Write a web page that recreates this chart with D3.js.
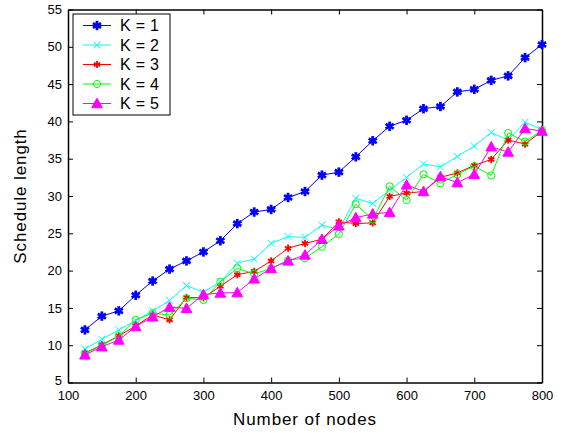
<!DOCTYPE html>
<html>
<head>
<meta charset="utf-8">
<script src="https://cdn.jsdelivr.net/npm/d3@7"></script>
<style>
  body { margin: 0; background: #fff; }
  svg { font-family: "Liberation Sans", Arial, sans-serif; }
</style>
</head>
<body>
<div id="chart"></div>
<script>
// number of nodes (x) and schedule length for each K
var nodes = [125, 150, 175, 200, 225, 250, 275, 300, 325, 350, 375, 400, 425, 450,
             475, 500, 525, 550, 575, 600, 625, 650, 675, 700, 725, 750, 775, 800];
var k1 = [12.05, 13.9, 14.6, 16.7, 18.6, 20.2, 21.3, 22.5, 24.0, 26.3, 27.85, 28.2, 29.8, 30.6,
          32.8, 33.2, 35.25, 37.4, 39.35, 40.15, 41.7, 42.0, 43.95, 44.3, 45.5, 46.1, 48.55, 50.3];
var k2 = [9.5, 10.8, 12.05, 13.3, 14.6, 16.0, 18.0, 17.1, 18.5, 21.0, 21.55, 23.65, 24.55, 24.45,
          26.1, 25.5, 29.7, 29.0, 30.8, 32.5, 34.3, 33.9, 35.3, 36.7, 38.5, 37.5, 39.9, 38.9];
var k3 = [8.95, 10.05, 11.25, 12.6, 14.05, 13.4, 16.4, 16.35, 17.9, 19.45, 19.9, 21.3, 23.0, 23.65,
          24.2, 26.55, 26.3, 26.4, 29.95, 30.4, 30.6, 32.5, 33.1, 34.1, 34.9, 37.5, 36.95, 38.7];
var k4 = [8.9, 9.95, 11.2, 13.4, 14.3, 14.05, 16.3, 16.05, 18.5, 20.3, 19.55, 20.3, 21.4, 21.65,
          23.2, 24.9, 28.9, 26.85, 31.3, 29.45, 32.9, 31.7, 32.9, 34.0, 32.75, 38.45, 37.3, 38.8];
var k5 = [8.7, 9.8, 10.7, 12.5, 13.8, 15.1, 14.95, 16.8, 17.0, 17.05, 18.9, 20.3, 21.3, 22.1,
          24.2, 26.0, 27.1, 27.6, 27.8, 31.5, 30.6, 32.6, 31.8, 32.9, 36.6, 35.9, 39.05, 38.7];

var seriesNames = ["K = 1", "K = 2", "K = 3", "K = 4", "K = 5"];
var seriesColors = ["#0000ff", "#00ffff", "#ff0000", "#00ff00", "#ff00ff"];
var seriesMarkers = ["bigstar", "x", "star", "circle", "triangle"];
var seriesValues = [k1, k2, k3, k4, k5];

var xTicks = [100, 200, 300, 400, 500, 600, 700, 800];
var yTicks = [5, 10, 15, 20, 25, 30, 35, 40, 45, 50, 55];

var width = 568, height = 433;
var margin = { top: 9.5, right: 26, bottom: 50.5, left: 68 };
var plotW = width - margin.left - margin.right,
    plotH = height - margin.top - margin.bottom;

var x = d3.scaleLinear().domain([100, 800]).range([0, plotW]);
var y = d3.scaleLinear().domain([5, 55]).range([plotH, 0]);

var svg = d3.select("#chart").append("svg")
    .attr("width", width)
    .attr("height", height);

var g = svg.append("g")
    .attr("transform", "translate(" + margin.left + "," + margin.top + ")");

// axes: ticks point inward, box on all four sides
var tickLen = 5;
g.append("g")
    .attr("transform", "translate(0," + plotH + ")")
    .call(d3.axisBottom(x).tickValues(xTicks).tickSizeInner(-tickLen).tickSizeOuter(0).tickPadding(8))
    .call(styleAxis);
g.append("g")
    .call(d3.axisTop(x).tickValues(xTicks).tickSizeInner(-tickLen).tickSizeOuter(0).tickFormat(""))
    .call(styleAxis);
var yAxisG = g.append("g")
    .call(d3.axisLeft(y).tickValues(yTicks).tickSizeInner(-tickLen).tickSizeOuter(0).tickPadding(6))
    .call(styleAxis);
g.append("g")
    .attr("transform", "translate(" + plotW + ",0)")
    .call(d3.axisRight(y).tickValues(yTicks).tickSizeInner(-tickLen).tickSizeOuter(0).tickFormat(""))
    .call(styleAxis);

// the lowest y label sits right against the "100" below it; lift it a little
yAxisG.selectAll(".tick text")
    .filter(function (d) { return d === 5; })
    .attr("y", -2.5);

function styleAxis(sel) {
    sel.select(".domain").attr("stroke", "#000").attr("stroke-width", 1.5);
    sel.selectAll(".tick line").attr("stroke", "#000").attr("stroke-width", 1);
    sel.selectAll(".tick text").attr("fill", "#000").style("font-size", "13px");
}

// series lines and markers
var line = d3.line()
    .x(function (d) { return x(d[0]); })
    .y(function (d) { return y(d[1]); });

function drawMarker(sel, type, color) {
    if (type === "bigstar" || type === "star") {
        var r = type === "bigstar" ? 4.7 : 3.6;
        var sw = type === "bigstar" ? 2.8 : 1.8;
        [0, 60, 120].forEach(function (a) {
            sel.append("line")
                .attr("x1", 0).attr("y1", -r).attr("x2", 0).attr("y2", r)
                .attr("transform", "rotate(" + a + ")")
                .attr("stroke", color).attr("stroke-width", sw);
        });
    } else if (type === "x") {
        var s = 3.5;
        sel.append("path")
            .attr("d", "M" + -s + "," + -s + "L" + s + "," + s + "M" + -s + "," + s + "L" + s + "," + -s)
            .attr("stroke", color).attr("stroke-width", 1);
    } else if (type === "circle") {
        sel.append("circle").attr("r", 3.6)
            .attr("fill", "none").attr("stroke", color).attr("stroke-width", 1);
    } else if (type === "triangle") {
        sel.append("path")
            .attr("d", "M0,-5.3L5.3,4.2L-5.3,4.2Z")
            .attr("fill", color).attr("stroke", color).attr("stroke-width", 1);
    }
}

seriesValues.forEach(function (vals, i) {
    var pts = nodes.map(function (n, j) { return [n, vals[j]]; });
    var sg = g.append("g");
    sg.append("path")
        .datum(pts)
        .attr("fill", "none")
        .attr("stroke", seriesColors[i])
        .attr("stroke-width", 1)
        .attr("d", line);
    sg.selectAll(".m")
        .data(pts)
        .enter().append("g")
        .attr("transform", function (d) { return "translate(" + x(d[0]) + "," + y(d[1]) + ")"; })
        .each(function () { drawMarker(d3.select(this), seriesMarkers[i], seriesColors[i]); });
});

// axis labels
svg.append("text")
    .attr("x", margin.left + plotW / 2)
    .attr("y", 425)
    .attr("text-anchor", "middle")
    .style("font-size", "17px")
    .style("letter-spacing", "0.9px")
    .text("Number of nodes");

svg.append("text")
    .attr("transform", "translate(26," + (margin.top + plotH / 2) + ") rotate(-90)")
    .attr("text-anchor", "middle")
    .style("font-size", "17px")
    .style("letter-spacing", "0.9px")
    .text("Schedule length");

// legend
var legend = svg.append("g").attr("transform", "translate(73,14)");
legend.append("rect")
    .attr("width", 97).attr("height", 101)
    .attr("fill", "#fff").attr("stroke", "#000").attr("stroke-width", 1);
seriesNames.forEach(function (name, i) {
    var ly = 11.5 + i * 19.5;
    var row = legend.append("g").attr("transform", "translate(0," + ly + ")");
    row.append("line")
        .attr("x1", 10).attr("x2", 38).attr("y1", 0).attr("y2", 0)
        .attr("stroke", seriesColors[i]).attr("stroke-width", 1);
    drawMarker(row.append("g").attr("transform", "translate(24,0)"), seriesMarkers[i], seriesColors[i]);
    row.append("text")
        .attr("x", 47).attr("y", 0).attr("dy", "0.36em")
        .style("font-size", "16px")
        .style("letter-spacing", "0.3px")
        .text(name);
});
</script>
</body>
</html>
